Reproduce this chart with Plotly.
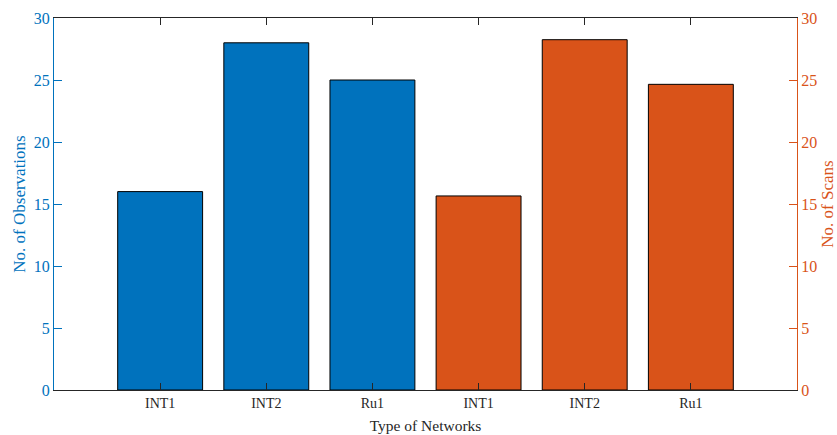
import plotly.graph_objects as go

tick_labels = ["INT1", "INT2", "Ru1", "INT1", "INT2", "Ru1"]
obs_x = [1, 2, 3]
obs_values = [16, 28, 25]
scan_x = [4, 5, 6]
scan_values = [15.65, 28.25, 24.65]

BLUE = "#0072BD"
ORANGE = "#D95319"
FONT = "Liberation Serif, Times New Roman, serif"

fig = go.Figure()
fig.add_trace(go.Bar(x=obs_x, y=obs_values, width=0.8, marker=dict(color=BLUE, line=dict(color="#000000", width=1)), yaxis="y", showlegend=False))
fig.add_trace(go.Bar(x=scan_x, y=scan_values, width=0.8, marker=dict(color=ORANGE, line=dict(color="#000000", width=1)), yaxis="y2", showlegend=False))

fig.update_layout(
    width=837, height=435,
    margin=dict(l=54, r=40, t=18, b=45, autoexpand=False),
    paper_bgcolor="white", plot_bgcolor="white",
    barmode="overlay",
    font=dict(family=FONT, size=14, color="#262626"),
    xaxis=dict(
        range=[0, 7], tickvals=[1, 2, 3, 4, 5, 6], ticktext=tick_labels,
        ticks="inside", ticklen=7, tickcolor="#262626", tickwidth=1,
        showline=True, linecolor="#262626", linewidth=1, mirror="ticks",
        showgrid=False, zeroline=False, automargin=False,
        title=dict(text="Type of Networks", font=dict(size=15.5, color="#262626"), standoff=10),
        tickfont=dict(size=14, color="#262626"),
    ),
    yaxis=dict(
        range=[0, 30], tickvals=[0, 5, 10, 15, 20, 25, 30],
        ticks="inside", ticklen=8, tickcolor=BLUE, tickwidth=1,
        showline=True, linecolor=BLUE, linewidth=1,
        showgrid=False, zeroline=False, automargin=False,
        tickfont=dict(size=16, color=BLUE),
        title=dict(text="No. of Observations", font=dict(size=17, color=BLUE), standoff=3),
    ),
    yaxis2=dict(
        range=[0, 30], tickvals=[0, 5, 10, 15, 20, 25, 30],
        overlaying="y", side="right",
        ticks="inside", ticklen=8, tickcolor=ORANGE, tickwidth=1,
        showline=True, linecolor=ORANGE, linewidth=1,
        showgrid=False, zeroline=False, automargin=False,
        tickfont=dict(size=16, color=ORANGE),
        title=dict(text="No. of Scans", font=dict(size=17, color=ORANGE), standoff=8),
    ),
)

fig.write_html("out.html", config={"displayModeBar": False})
with open("out.html", "r", encoding="utf-8") as f:
    html = f.read()
html = html.replace("<body>", '<body style="margin:0;padding:0;overflow:hidden">', 1)
with open("out.html", "w", encoding="utf-8") as f:
    f.write(html)
